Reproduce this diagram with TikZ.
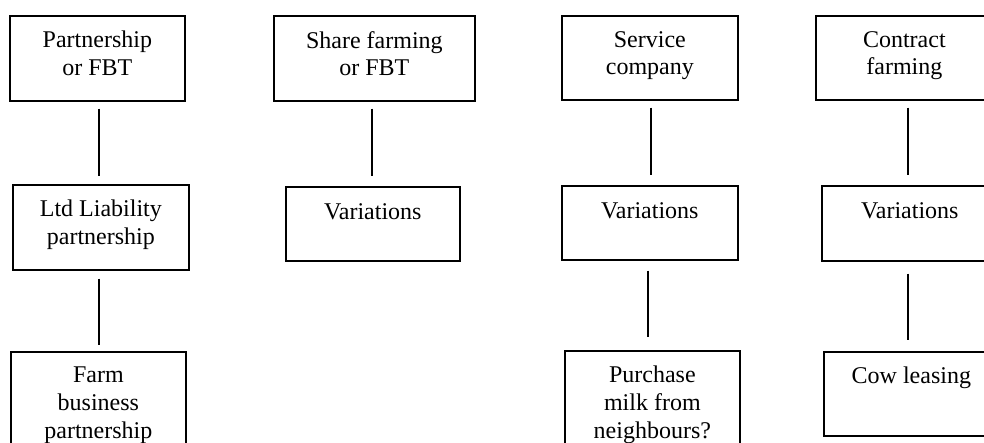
\documentclass[tikz,border=0pt]{standalone}
\usepackage{fontspec}
\setmainfont{Liberation Serif}
\begin{document}
\begin{tikzpicture}[x=1pt,y=-1pt,
  box/.style={draw, line width=1.7pt, inner sep=0pt, anchor=north west},
  txt/.style={anchor=north, align=center, inner sep=0pt, font=\fontsize{24}{27.6}\selectfont},
  conn/.style={line width=1.6pt}]
\useasboundingbox (0,0) rectangle (984,443);
\clip (0,0) rectangle (984,443);
% column 1
\node[box, minimum width=175pt, minimum height=85pt] (A1) at (9,15) {};
\node[box, minimum width=176pt, minimum height=85pt] (A2) at (12,184) {};
\node[box, minimum width=175pt, minimum height=120pt] (A3) at (10,351) {};
% column 2
\node[box, minimum width=201pt, minimum height=85pt] (B1) at (273,15) {};
\node[box, minimum width=174pt, minimum height=74pt] (B2) at (285,186) {};
% column 3
\node[box, minimum width=176pt, minimum height=84pt] (C1) at (561,15) {};
\node[box, minimum width=176pt, minimum height=74pt] (C2) at (561,185) {};
\node[box, minimum width=175pt, minimum height=120pt] (C3) at (564,350) {};
% column 4
\node[box, minimum width=177pt, minimum height=84pt] (D1) at (815,15) {};
\node[box, minimum width=176pt, minimum height=75pt] (D2) at (821,185) {};
\node[box, minimum width=175pt, minimum height=84pt] (D3) at (823,351) {};
% texts
\node[txt] (tA1) at ([yshift=-16pt]A1.north) {Partnership\\or FBT};
\node[txt] (tA2) at ([yshift=-16pt]A2.north) {Ltd Liability\\partnership};
\node[txt] (tA3) at ([yshift=-16pt]A3.north) {Farm\\business\\partnership};
\node[txt] (tB1) at ([yshift=-16pt]B1.north) {Share farming\\or FBT};
\node[txt] (tB2) at ([yshift=-17pt]B2.north) {Variations};
\node[txt] (tC1) at ([yshift=-16pt]C1.north) {Service\\company};
\node[txt] (tC2) at ([yshift=-17pt]C2.north) {Variations};
\node[txt] (tC3) at ([yshift=-16pt]C3.north) {Purchase\\milk from\\neighbours?};
\node[txt] (tD1) at ([yshift=-16pt]D1.north) {Contract\\farming};
\node[txt] (tD2) at ([yshift=-17pt]D2.north) {Variations};
\node[txt] (tD3) at ([yshift=-16pt]D3.north) {Cow leasing};
% connectors
\draw[conn, shorten <=7pt, shorten >=8pt] ([xshift=1.5pt]A1.south) -- ([xshift=1.5pt]A1.south |- A2.north);
\draw[conn, shorten <=8pt, shorten >=6pt] ([xshift=-2pt]A2.south) -- ([xshift=-2pt]A2.south |- A3.north);
\draw[conn, shorten <=7pt, shorten >=10pt] ([xshift=-2.5pt]B1.south) -- ([xshift=-2.5pt]B1.south |- B2.north);
\draw[conn, shorten <=7pt, shorten >=10pt] ([xshift=1pt]C1.south) -- ([xshift=1pt]C1.south |- C2.north);
\draw[conn, shorten <=10pt, shorten >=13pt] ([xshift=-2pt]C2.south) -- ([xshift=-2pt]C2.south |- C3.north);
\draw[conn, shorten <=7pt, shorten >=10pt] ([xshift=3.5pt]D1.south) -- ([xshift=3.5pt]D1.south |- D2.north);
\draw[conn, shorten <=12pt, shorten >=11pt] ([xshift=-2pt]D2.south) -- ([xshift=-2pt]D2.south |- D3.north);
\end{tikzpicture}
\end{document}
